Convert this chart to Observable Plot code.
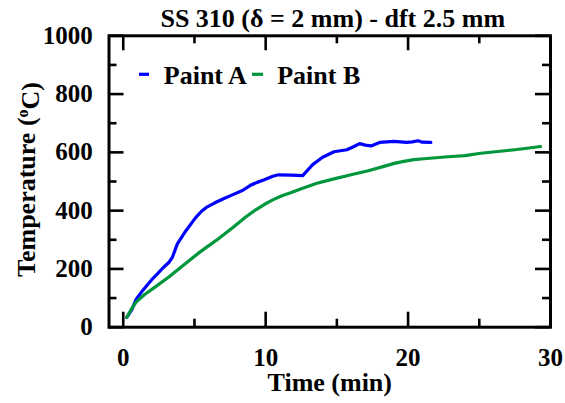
<!DOCTYPE html>
<html><head><meta charset="utf-8">
<script src="https://cdn.jsdelivr.net/npm/d3@7"></script>
<script src="https://cdn.jsdelivr.net/npm/@observablehq/plot@0.6"></script>
<style>body{margin:0;background:#fff}</style>
</head><body><div id="chart"></div>
<script>
const seriesNames = ["Paint A", "Paint B"];
const seriesColors = ["#0000ff", "#00963c"];
const timeA = [0.25,0.6,0.9,1.3,1.6,2.0,2.4,2.8,3.2,3.45,3.8,4.4,5.1,5.5,5.9,6.4,7.0,7.7,8.4,8.9,9.4,9.9,10.5,10.9,11.8,12.6,13.3,14.0,14.8,15.7,16.2,16.6,17.0,17.4,18.0,19.0,19.9,20.3,20.7,21.0,21.6];
const tempA = [34,60,95,122,140,163,183,204,222,240,286,331,377,398,413,426,440,455,470,486,497,506,518,523,522,520,558,583,602,609,620,630,625,622,634,638,634,636,640,635,634];
const timeB = [0.25,0.55,0.9,1.5,2.3,3.2,4.2,5.3,6.5,7.7,8.6,9.3,9.9,10.5,11.1,11.8,12.5,13.6,14.8,16.0,17.2,18.3,19.1,19.7,20.4,21.1,22.8,24.0,25.1,26.3,27.5,28.5,29.3];
const tempB = [34,60,86,112,140,172,212,255,297,342,378,403,421,437,450,462,475,494,509,523,537,552,563,569,575,578,585,589,597,603,609,615,620];
const xMajor = [0, 10, 20, 30];
const xMinor = [5, 15, 25];
const yMajor = [0, 200, 400, 600, 800, 1000];
const yMinor = [100, 300, 500, 700, 900];
const title = "SS 310 (\u03b4 = 2 mm) - dft 2.5 mm";
const xLabel = "Time (min)";
const yLabel = "Temperature (\u00baC)";

const W = 565, H = 403, mL = 108.5, mR = 15, mT = 35.3, mB = 76.3;
const fw = W - mL - mR, fh = H - mT - mB;
const FS = 25, LS = 26;
const font = "'Liberation Serif', 'Times New Roman', serif";

const rows = [
  ...timeA.map((t, i) => ({series: seriesNames[0], t, T: tempA[i]})),
  ...timeB.map((t, i) => ({series: seriesNames[1], t, T: tempB[i]}))
];

const tickStyle = {stroke: "black", strokeWidth: 2.6};
const txt = {fontSize: LS, fontWeight: "bold", lineAnchor: "middle", text: d => d};
const plot = Plot.plot({
  width: W, height: H,
  marginLeft: mL, marginRight: mR, marginTop: mT, marginBottom: mB,
  style: {fontFamily: font, fontWeight: "bold", fontSize: FS + "px", background: "#fff", color: "#000", overflow: "visible"},
  x: {domain: [-1, 30]},
  y: {domain: [0, 1000]},
  color: {domain: seriesNames, range: seriesColors},
  marks: [
    Plot.line(rows, {x: "t", y: "T", z: "series", stroke: "series", strokeWidth: 3.2, strokeLinejoin: "round", strokeLinecap: "round"}),
    Plot.tickX(xMajor, {x: d => d, ...tickStyle, insetTop: fh - 15}),
    Plot.tickX(xMajor, {x: d => d, ...tickStyle, insetBottom: fh - 15}),
    Plot.tickX(xMinor, {x: d => d, ...tickStyle, insetTop: fh - 8}),
    Plot.tickX(xMinor, {x: d => d, ...tickStyle, insetBottom: fh - 8}),
    Plot.tickY(yMajor, {y: d => d, ...tickStyle, insetRight: fw - 15}),
    Plot.tickY(yMajor, {y: d => d, ...tickStyle, insetLeft: fw - 15}),
    Plot.tickY(yMinor, {y: d => d, ...tickStyle, insetRight: fw - 8}),
    Plot.tickY(yMinor, {y: d => d, ...tickStyle, insetLeft: fw - 8}),
    Plot.frame({stroke: "black", strokeWidth: 3}),
    Plot.axisX(xMajor, {tickSize: 0, tickPadding: 21, label: null, fontSize: FS, fontWeight: "bold", tickFormat: d => String(d)}),
    Plot.axisY(yMajor, {tickSize: 0, tickPadding: 16.2, label: null, fontSize: FS, fontWeight: "bold", tickFormat: d => String(d)}),
    Plot.text([title], {...txt, frameAnchor: "top", textAnchor: "middle", dx: 3, dy: -16.9}),
    Plot.text([xLabel], {...txt, frameAnchor: "bottom", textAnchor: "middle", dy: 55}),
    Plot.text([yLabel], {...txt, frameAnchor: "left", textAnchor: "middle", rotate: -90, dx: -82.5, dy: -2}),
    Plot.text([seriesNames[0]], {...txt, frameAnchor: "top-left", textAnchor: "start", dx: 54.8, dy: 39.4}),
    Plot.text([seriesNames[1]], {...txt, frameAnchor: "top-left", textAnchor: "start", dx: 168.2, dy: 39.4})
  ]
});
document.getElementById("chart").appendChild(plot);

// superscript o in y label
const svg = d3.select(plot);
svg.selectAll("text").filter(function() { return this.textContent === yLabel; }).each(function() {
  const t = d3.select(this);
  t.text(null);
  t.append("tspan").text("Temperature (");
  t.append("tspan").attr("dy", "-0.4em").attr("font-size", "16px").text("o");
  t.append("tspan").attr("dy", "0.4em").text("C)");
});
// legend dashes
const dashes = [[139, 149], [252, 263]];
dashes.forEach((d, i) => {
  svg.append("line").attr("x1", d[0]).attr("x2", d[1]).attr("y1", 74.3).attr("y2", 74.3)
    .attr("stroke", seriesColors[i]).attr("stroke-width", 3.2);
});
</script>
</body></html>
